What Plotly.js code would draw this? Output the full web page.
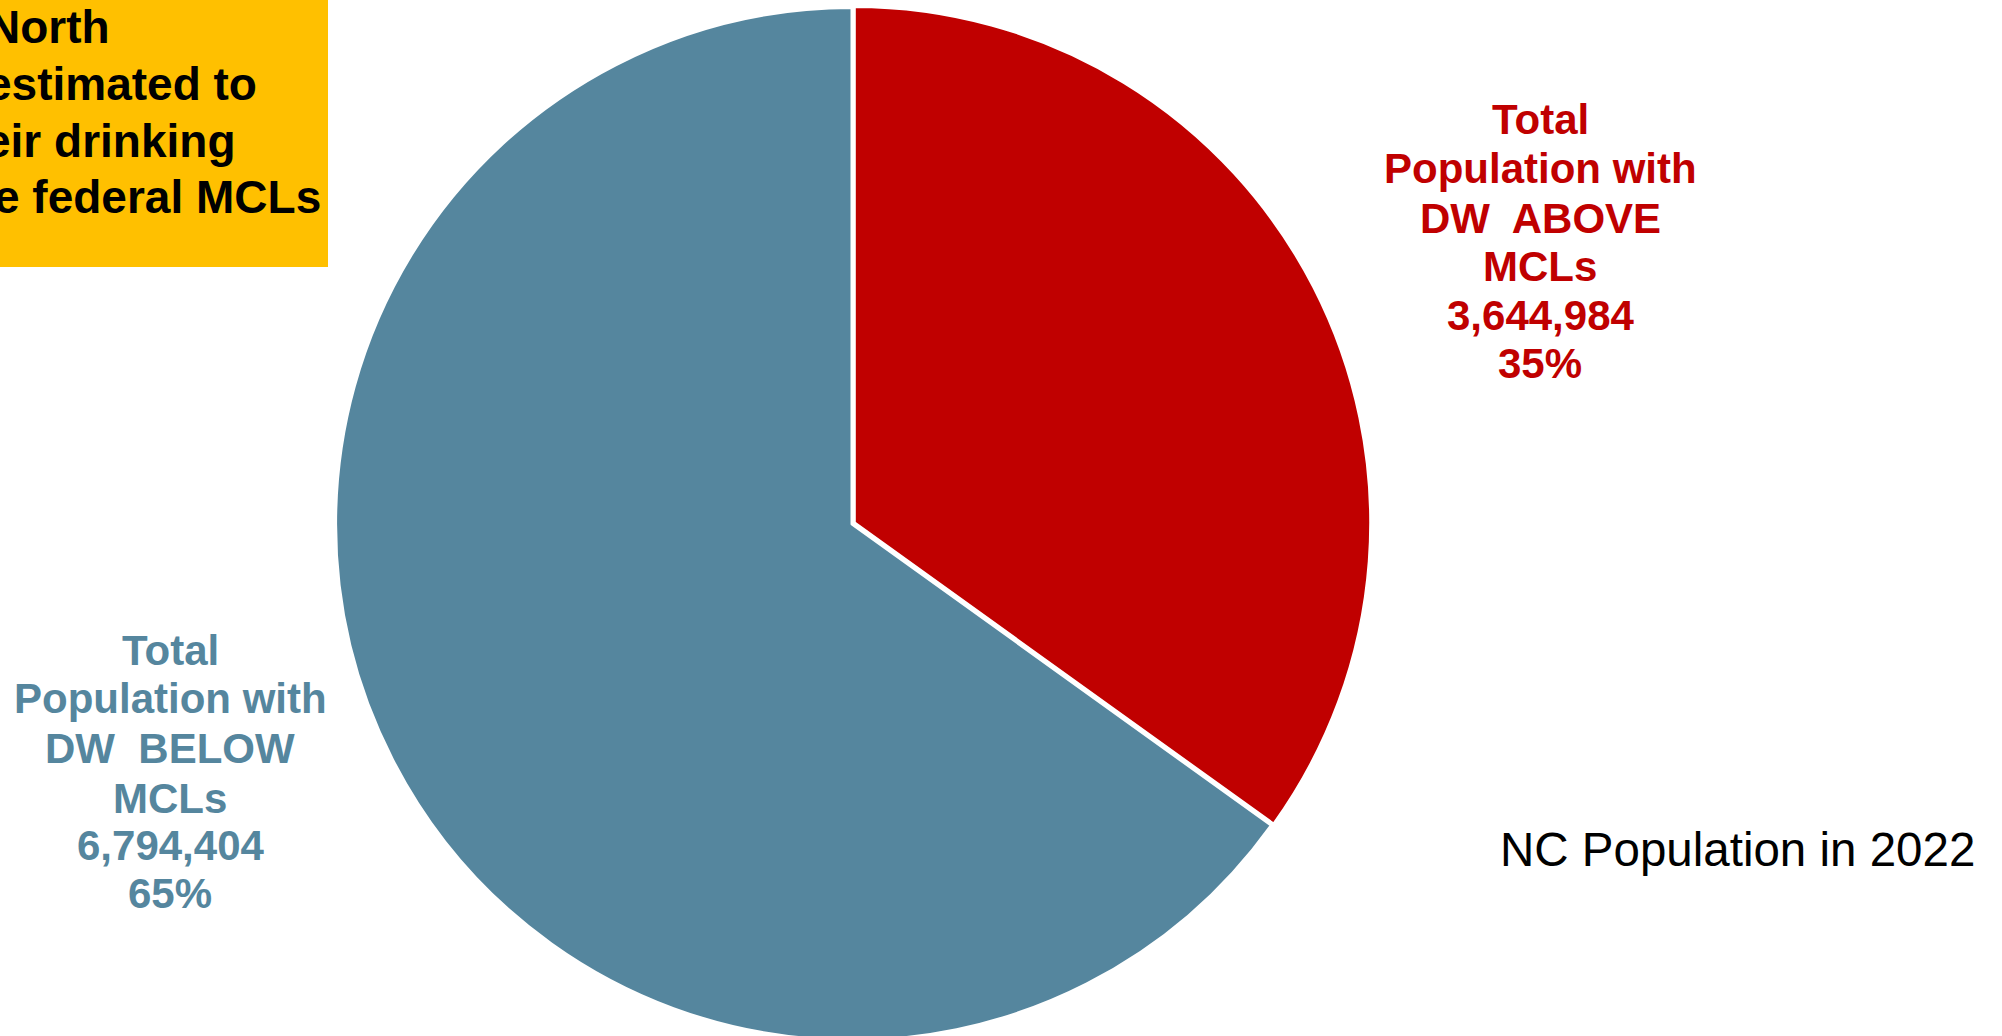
<!DOCTYPE html>
<html>
<head>
<meta charset="utf-8">
<script src="https://cdn.plot.ly/plotly-3.0.1.min.js"></script>
<style>
html,body{margin:0;padding:0;overflow:hidden;background:#fff;}
#chart{width:2002px;height:1046px;}
</style>
</head>
<body>
<div id="chart"></div>
<script>
// ---- data ----
const categories = ['Total Population with DW ABOVE MCLs', 'Total Population with DW BELOW MCLs'];
const labelLinesAbove = ['Total', 'Population with', 'DW  ABOVE', 'MCLs'];
const labelLinesBelow = ['Total', 'Population with', 'DW  BELOW', 'MCLs'];
const values = [3644984, 6794404];
const sliceColors = ['#C00000', '#55869E'];
const chartTitle = 'NC Population in 2022';
const calloutLines = ['North', 'estimated to', 'eir drinking', 'e federal MCLs'];

// ---- layout helpers ----
const W = 2002, H = 1046;
const px = x => x / W;
const py = y => 1 - y / H;

const cx = 852, cy = 524, r = 519;

const total = values.reduce((a, b) => a + b, 0);
const pct = values.map(v => Math.round(v / total * 100) + '%');

function labelAnnotations(lines, value, percent, xCenter, yCenters, color) {
  const all = lines.concat([value.toLocaleString('en-US'), percent]);
  return all.map((t, i) => ({
    text: t, xref: 'paper', yref: 'paper',
    x: px(xCenter), y: py(yCenters[i]),
    xanchor: 'center', yanchor: 'middle', showarrow: false,
    font: {family: 'Arial, Liberation Sans, sans-serif', size: 42, color: color, weight: 'bold'}
  }));
}

const annotations = []
  .concat(labelAnnotations(labelLinesAbove, values[0], pct[0], 1540, [120, 168, 218, 267, 315, 363], sliceColors[0]))
  .concat(labelAnnotations(labelLinesBelow, values[1], pct[1], 170, [650, 698, 748, 798, 845, 893], sliceColors[1]));

annotations.push({
  text: chartTitle, xref: 'paper', yref: 'paper',
  x: px(1737), y: py(849), xanchor: 'center', yanchor: 'middle', showarrow: false,
  font: {family: 'Arial, Liberation Sans, sans-serif', size: 47.5, color: '#000000'}
});

const calloutRight = [112, 259, 237, 323];
const calloutY = [27, 84, 141, 197];
calloutLines.forEach((t, i) => {
  annotations.push({
    text: t, xref: 'paper', yref: 'paper',
    x: px(calloutRight[i]), y: py(calloutY[i]), xanchor: 'right', yanchor: 'middle', showarrow: false,
    font: {family: 'Arial, Liberation Sans, sans-serif', size: 46, color: '#000000', weight: 'bold'}
  });
});

const trace = {
  type: 'pie',
  labels: categories,
  values: values,
  sort: false,
  direction: 'clockwise',
  rotation: 0,
  pull: [0.005, 0],
  textinfo: 'none',
  hoverinfo: 'label+value+percent',
  marker: {colors: sliceColors, line: {color: '#ffffff', width: 3}},
  domain: {x: [px(cx - r), px(cx + r)], y: [(H - cy - r) / H, (H - cy + r) / H]},
  showlegend: false
};

const layout = {
  width: W, height: H,
  margin: {l: 0, r: 0, t: 0, b: 0, pad: 0},
  paper_bgcolor: '#ffffff',
  plot_bgcolor: '#ffffff',
  showlegend: false,
  shapes: [{
    type: 'rect', xref: 'paper', yref: 'paper',
    x0: 0, x1: px(328), y0: py(267), y1: 1,
    fillcolor: '#FFC000', line: {width: 0}, layer: 'below'
  }],
  annotations: annotations
};

Plotly.newPlot('chart', [trace], layout, {displayModeBar: false, staticPlot: true});
</script>
</body>
</html>
